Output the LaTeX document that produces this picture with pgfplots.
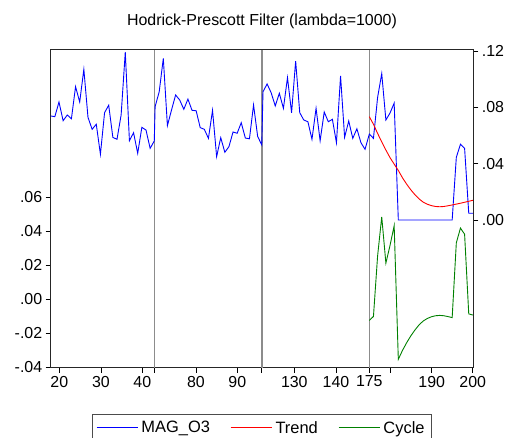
\documentclass[border=0pt]{standalone}
\usepackage{fontspec}
\setmainfont{Liberation Sans}
\usepackage{pgfplots}
\pgfplotsset{compat=1.18}
\definecolor{evblue}{RGB}{0,0,255}
\definecolor{evred}{RGB}{255,0,0}
\definecolor{evgreen}{RGB}{0,128,0}
\definecolor{sepgray}{RGB}{140,140,140}
\begin{document}
\begin{tikzpicture}
\path[use as bounding box] (-50.7bp,-70.5bp) rectangle (459.3bp,367.5bp);
\node[font=\fontsize{16}{19}\selectfont] at (211.3bp,346bp) {Hodrick-Prescott Filter (lambda=1000)};
% left axis: cycle
\begin{axis}[
  at={(0,0)}, anchor=south west,
  scale only axis, width=422.6bp, height=317.5bp,
  xmin=0, xmax=102, ymin=-0.04, ymax=0.1465,
  axis line style={line width=1.0pt, black!85},
  tick align=outside, major tick length=5bp,
  tick style={black, line width=0.8pt},
  xtick pos=lower, ytick pos=left,
  xtick={2.08,12.14,22.1,25.1,35.07,45.04,50.93,58.8,68.86,76.9,82.07,91.96,101.86},
  xticklabels={20,30,40,,80,90,,130,140,175,,190,200},
  ytick={-0.04,-0.02,0,0.02,0.04,0.06},
  yticklabels={-.04,-.02,.00,.02,.04,.06},
  tick label style={font=\fontsize{16}{19}\selectfont},
  grid style={draw=sepgray, line width=1.6pt},
  major grid style={draw=sepgray, line width=1.6pt},
  extra x ticks={25.1,50.93,76.9},
  extra x tick labels={},
  extra x tick style={grid=major, grid style={draw=sepgray, line width=1.6pt}, major grid style={draw=sepgray, line width=1.6pt}},
  clip=false,
]
\addplot[evgreen, line width=0.9pt] coordinates {
(76.9,-0.0124) (77.9,-0.0100) (78.9,0.0255) (79.9,0.0485) (80.9,0.0213)
(81.9,0.0317) (82.9,0.0433) (83.9,-0.0352) (84.9,-0.0300) (85.9,-0.0255)
(86.9,-0.0215) (87.9,-0.0180) (88.9,-0.0150) (89.9,-0.0127) (90.9,-0.0112)
(91.9,-0.0102) (92.9,-0.0096) (93.9,-0.0094) (94.9,-0.0096) (95.9,-0.0101)
(96.9,-0.0107) (97.9,0.0332) (98.9,0.0419) (99.9,0.0383) (100.9,-0.0085)
(101.9,-0.0092)
};
\end{axis}
% right axis: series and trend
\begin{axis}[
  at={(0,0)}, anchor=south west,
  scale only axis, width=422.6bp, height=317.5bp,
  xmin=0, xmax=102, ymin=-0.10476, ymax=0.12074,
  axis x line=none, axis y line*=right,
  axis line style={line width=1.0pt, black!85},
  tick align=outside, major tick length=5bp,
  tick style={black, line width=0.8pt},
  ytick={0,0.04,0.08,0.12},
  yticklabels={.00,.04,.08,.12},
  tick label style={font=\fontsize{16}{19}\selectfont},
  legend columns=3,
  legend style={at={(0.5,0)}, anchor=north, yshift=-46bp,
    draw=black!70, line width=0.8pt,
    font=\fontsize{16.5}{19}\selectfont,
    inner xsep=4bp, inner ysep=4bp,
    nodes={inner sep=3.3bp},
    /tikz/every even column/.append style={column sep=17bp}},
]
\addlegendimage{legend image code/.code={\draw[evblue, line width=1pt] (0bp,0bp) -- (41bp,0bp);}}
\addlegendentry{MAG\_O3}
\addlegendimage{legend image code/.code={\draw[evred, line width=1pt] (0bp,0bp) -- (41bp,0bp);}}
\addlegendentry{Trend}
\addlegendimage{legend image code/.code={\draw[evgreen, line width=1pt] (0bp,0bp) -- (41bp,0bp);}}
\addlegendentry{Cycle}
\addplot[evblue, line width=0.9pt, forget plot] coordinates {
(0,0.0739) (1,0.0734) (2,0.0838) (3,0.0705) (4,0.0746) (5,0.0719) (6,0.0947)
(7,0.0838) (8,0.1070) (9,0.0729) (10,0.0644) (11,0.0680) (12,0.0467) (13,0.0762)
(14,0.0815) (15,0.0587) (16,0.0573) (17,0.0746) (18,0.1193) (19,0.0563) (20,0.0620)
(21,0.0474) (22,0.0658) (23,0.0639) (24,0.0509) (25,0.0561)
(25.20,0.0805) (26.19,0.0911) (27.18,0.1148) (28.17,0.0670) (29.16,0.0781)
(30.15,0.0888) (31.14,0.0852) (32.13,0.0786) (33.12,0.0859) (34.11,0.0779)
(35.10,0.0776) (36.09,0.0656) (37.08,0.0644) (38.07,0.0580) (39.06,0.0779)
(40.05,0.0450) (41.04,0.0585) (42.03,0.0481) (43.02,0.0521) (44.01,0.0625)
(45.00,0.0616) (45.99,0.0691) (46.98,0.0582) (47.97,0.0577) (48.96,0.0817)
(49.95,0.0594) (50.94,0.0533)
(51.24,0.0911) (52.23,0.0966) (53.21,0.0904) (54.20,0.0810) (55.18,0.0900)
(56.17,0.0793) (57.15,0.1011) (58.14,0.0762) (59.12,0.1129) (60.11,0.0762)
(61.09,0.0710) (62.08,0.0698) (63.06,0.0573) (64.05,0.0793) (65.03,0.0563)
(66.02,0.0767) (67.00,0.0698) (67.99,0.0715) (68.97,0.0549) (69.96,0.1023)
(70.94,0.0587) (71.93,0.0703) (72.91,0.0580) (73.90,0.0648) (74.88,0.0549)
(75.87,0.0502)
(76.9,0.061) (77.9,0.058) (78.9,0.087) (79.9,0.104) (80.9,0.071) (81.9,0.076)
(82.9,0.083) (83.9,0) (84.9,0) (85.9,0) (86.9,0) (87.9,0) (88.9,0) (89.9,0)
(90.9,0) (91.9,0) (92.9,0) (93.9,0) (94.9,0) (95.9,0) (96.9,0)
(97.9,0.0445) (98.9,0.0538) (99.9,0.0509) (100.9,0.0048) (101.9,0.0048)
};
\addplot[evred, line width=0.9pt, forget plot] coordinates {
(76.9,0.0734) (77.9,0.0680) (78.9,0.0615) (79.9,0.0555) (80.9,0.0497)
(81.9,0.0443) (82.9,0.0397) (83.9,0.0352) (84.9,0.0300) (85.9,0.0255)
(86.9,0.0215) (87.9,0.0180) (88.9,0.0150) (89.9,0.0127) (90.9,0.0112)
(91.9,0.0102) (92.9,0.0096) (93.9,0.0094) (94.9,0.0096) (95.9,0.0101)
(96.9,0.0107) (97.9,0.0113) (98.9,0.0119) (99.9,0.0126) (100.9,0.0133)
(101.9,0.0140)
};
\end{axis}
\end{tikzpicture}
\end{document}
